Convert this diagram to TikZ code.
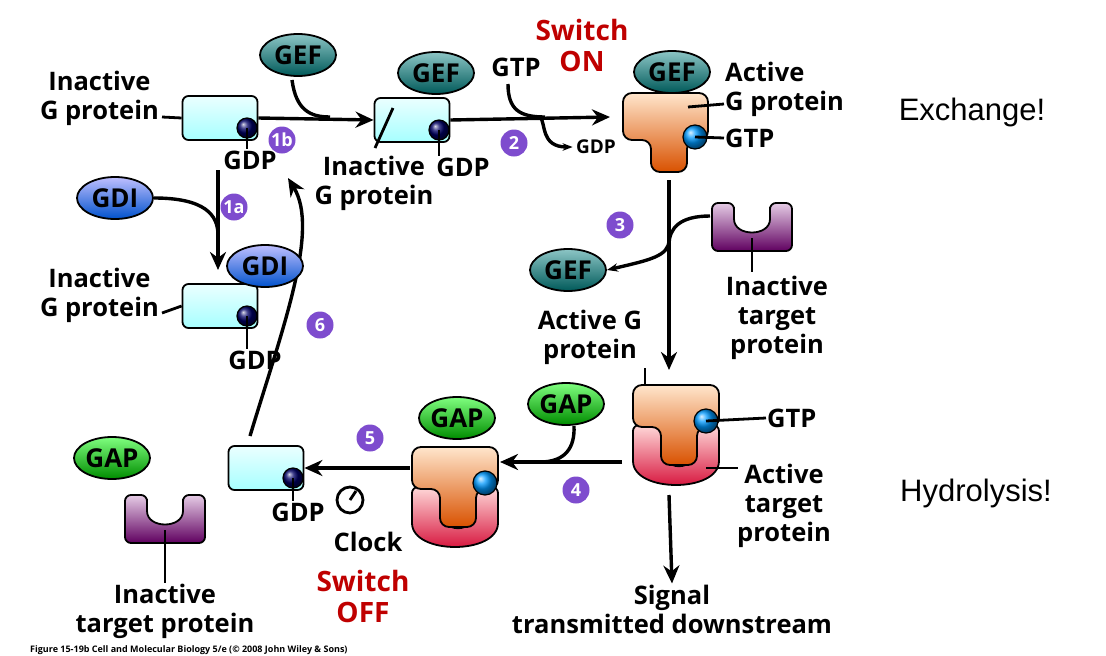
\documentclass[tikz,border=0pt]{standalone}
\usepackage{fontspec}
\setmainfont{Open Sans}
\newfontfamily\helv{Liberation Sans}
\usetikzlibrary{shapes.geometric,arrows.meta}

\tikzset{
  lbl/.style={font=\bfseries\fontsize{25.5}{29}\selectfont, align=center, inner sep=1pt},
  red/.style={lbl, font=\bfseries\fontsize{28}{31}\selectfont, text=red!75!black},
  ell/.style={ellipse, draw, line width=1.8pt, minimum width=76pt, minimum height=42pt, inner sep=0pt,
    font=\bfseries\fontsize{26}{27}\selectfont},
  gef/.style={ell, top color=teal!45!white, bottom color=teal!70!black},
  gdi/.style={ell, top color=blue!25!white, bottom color=blue!60!cyan!80!black},
  gap/.style={ell, top color=green!50!white, bottom color=green!55!black},
  num/.style={circle, fill=blue!45!violet!70!white, text=white, inner sep=0pt, minimum size=27pt,
    font=\bfseries\fontsize{18}{18}\selectfont},
  con/.style={line width=3.4pt},
  arr/.style={con, -{Stealth[length=18pt,width=16pt]}},
  ptr/.style={line width=2.8pt},
  ginact/.pic={
    \node[draw, line width=1.8pt, rounded corners=6pt, minimum width=75pt, minimum height=44pt,
      top color=cyan!8!white, bottom color=cyan!35!white] (-box) {};
    \node[circle, draw, line width=1.2pt, minimum size=20pt, inner sep=0pt, ball color=blue!40!black] (-ball) at (27,10) {};
  },
  gact/.pic={
    \path[draw, line width=1.8pt, top color=orange!20!white, bottom color=orange!75!red!85!black, rounded corners=9pt]
      (0,0) -- (0,47) -- (28,47) -- (28,79) -- (64,79) -- (64,47) -- (85,47) -- (85,0) -- cycle;
    \node[circle, draw, line width=1.2pt, minimum size=24pt, inner sep=0pt, ball color=cyan!60!blue] (-ball) at (72,44) {};
  },
  gcplx/.pic={
    \path[draw, line width=1.8pt, top color=red!15!white, bottom color=purple!70!red, rounded corners=6pt]
      (0,40) -- (0,70) .. controls (0,108) and (86,108) .. (86,70) -- (86,40) -- (64,40) -- (64,55)
      .. controls (64,88) and (28,88) .. (28,55) -- (28,40) -- cycle;
    \path[draw, line width=1.8pt, top color=orange!20!white, bottom color=orange!75!red!85!black, rounded corners=9pt]
      (0,0) -- (0,42) -- (28,42) -- (28,80) -- (64,80) -- (64,42) -- (86,42) -- (86,0) -- cycle;
    \node[circle, draw, line width=1.2pt, minimum size=24pt, inner sep=0pt, ball color=cyan!60!blue] (-ball) at (73,36) {};
  },
  target/.pic={
    \path[draw, line width=1.8pt, top color=violet!20!white, bottom color=violet!75!black, rounded corners=6pt]
      (0,0) -- (0,48) -- (80,48) -- (80,0) -- (58,0) -- (58,10) .. controls (58,34) and (22,34) .. (22,10) -- (22,0) -- cycle;
  }
}

\begin{document}
\begin{tikzpicture}[x=1pt,y=-1pt]
\useasboundingbox (0,0) rectangle (1106,656);
\clip (0,0) rectangle (1106,656);

% top row
\pic (g1) at (220,118) {ginact};
\node[gef] (gef1) at (298,55) {GEF};
\node[lbl, anchor=east] (ig1) at (160,98) {Inactive\\G protein};
\node[lbl] (gdp1) at (250,160) {GDP};
\draw[ptr] (162,117) -- (g1-box.west);
\draw[ptr] (g1-ball.center) -- (g1-ball.center |- gdp1.north);
\node[num] (n1b) at (282,140) {1b};

\pic (g2) at (412,120) {ginact};
\node[gef] (gef2) at (436,73) {GEF};
\node[lbl] (ig2) at (374,183) {Inactive\\G protein};
\node[lbl] (gdp2) at (463,167) {GDP};
\coordinate (p2) at (375,148);
\draw[ptr] (p2) -- (393,108);
\draw[ptr] (g2-ball.center) -- (g2-ball.center |- gdp2.north);
\draw[arr] (g1-box.east) -- (g2-box.west);
\coordinate (c1) at (292,80);
\draw[con] (c1) .. controls (296,110) and (310,117) .. (330,117);

\node[lbl] (gtp1) at (516,67) {GTP};
\node[red] (on) at (582,45) {Switch\\ON};
\node[num] (n2) at (514,143) {2};
\pic (ga1) at (623,93) {gact};
\node[gef] (gef3) at (672,72) {GEF};
\coordinate (ga1w) at (610,117);
\draw[arr] (g2-box.east) -- (ga1w);
\coordinate (c2) at (508,84);
\draw[con] (c2) .. controls (508,110) and (520,117) .. (545,117);
\node[font=\bfseries\fontsize{19}{21}\selectfont] (gdpo) at (596,147) {GDP};
\draw[con, -{Stealth[length=10pt]}] (540,117) .. controls (546,122) and (540,147) .. (gdpo.west);
\node[lbl, anchor=west] (act1) at (724,72) {Active};
\node[lbl, anchor=west] (gp1) at (724,104) {G protein};
\node[lbl, anchor=west] (gtp2) at (724,138) {GTP};
\draw[ptr] (688,107) -- (gp1.west);
\draw[ptr] (ga1-ball.center) -- (gtp2.west);
\node[font=\helv\fontsize{31}{33}\selectfont] (exch) at (972,112) {Exchange!};

% right column
\coordinate (v1) at (669,180);
\coordinate (v2) at (669,370);
\draw[arr] (v1) -- (v2);
\node[num] (n3) at (620,225) {3};
\pic (t1) at (712,203) {target};
\node[gef] (gef4) at (568,270) {GEF};
\draw[con] (710,216) .. controls (680,216) and (669,228) .. (669,245);
\draw[con, -{Stealth[length=11pt]}] (669,240) .. controls (669,256) and (650,260) .. (gef4.east);
\node[lbl] (it1) at (777,318) {Inactive\\target\\protein};
\draw[ptr] (752,238) -- (752,272);
\node[lbl] (ag1) at (590,337) {Active G\\protein};
\draw[ptr] (645,368) -- (645,392);

\pic (cx1) at (633,385) {gcplx};
\node[lbl, anchor=west] (gtp3) at (766,418) {GTP};
\draw[ptr] (cx1-ball.center) -- (gtp3.west);
\node[lbl, anchor=west] (at1) at (736,506) {Active\\target\\protein};
\draw[ptr] (706,468) -- (738,468);
\node[lbl] (sig) at (672,609) {Signal\\transmitted downstream};
\coordinate (v3) at (669,495);
\draw[arr] (v3) -- (sig.north);
\node[font=\helv\fontsize{31}{33}\selectfont] (hyd) at (976,493) {Hydrolysis!};

% bottom row
\node[gap] (gap1) at (566,404) {GAP};
\pic (cx2) at (412,447) {gcplx};
\node[gap] (gap2) at (457,418) {GAP};
\coordinate (h1) at (622,462);
\coordinate (h2) at (500,462);
\draw[arr] (h1) -- (h2);
\coordinate (c4) at (574,426);
\draw[con] (c4) .. controls (575,448) and (565,462) .. (540,462);
\node[num] (n4) at (576,490) {4};

\pic (g3) at (266,468) {ginact};
\coordinate (h3) at (410,468);
\draw[arr] (h3) -- (g3-box.east);
\node[num] (n5) at (370,438) {5};
\node[lbl] (gdp3) at (298,512) {GDP};
\draw[ptr] (g3-ball.center) -- (g3-ball.center |- gdp3.north);
\node[circle, draw, line width=2.8pt, minimum size=26pt] (clk) at (350,500) {};
\draw[line width=2.8pt] (clk.center) -- ++(6,-9);
\node[lbl] (clock) at (368,542) {Clock};
\node[red] (off) at (363,596) {Switch\\OFF};

\coordinate (c6) at (250,436);
\draw[arr] (c6) .. controls (282,330) and (320,230) .. (288,178);
\node[num] (n6) at (320,325) {6};

% left column
\node[gdi] (gdi1) at (115,198) {GDI};
\coordinate (v4) at (218,170);
\coordinate (v5) at (218,270);
\draw[arr] (v4) -- (v5);
\draw[con] (gdi1.east) .. controls (205,198) and (218,215) .. (218,235);
\node[num] (n1a) at (234,207) {1a};
\pic (g4) at (220,306) {ginact};
\node[gdi] (gdi2) at (265,266) {GDI};
\node[lbl, anchor=east] (ig4) at (160,295) {Inactive\\G protein};
\draw[ptr] (162,313) -- (g4-box.west);
\node[lbl] (gdp4) at (255,360) {GDP};
\draw[ptr] (g4-ball.center) -- (g4-ball.center |- gdp4.north);

\node[gap] (gap3) at (112,458) {GAP};
\pic (t2) at (125,495) {target};
\node[lbl] (it2) at (165,611) {Inactive\\target protein};
\draw[ptr] (165,530) -- (it2.north);
\node[anchor=south west, font=\bfseries\fontsize{9}{9}\selectfont, inner sep=0pt] (fig) at (30,655)
  {Figure 15-19b Cell and Molecular Biology 5/e (\textcopyright{} 2008 John Wiley \& Sons)};
\end{tikzpicture}
\end{document}
